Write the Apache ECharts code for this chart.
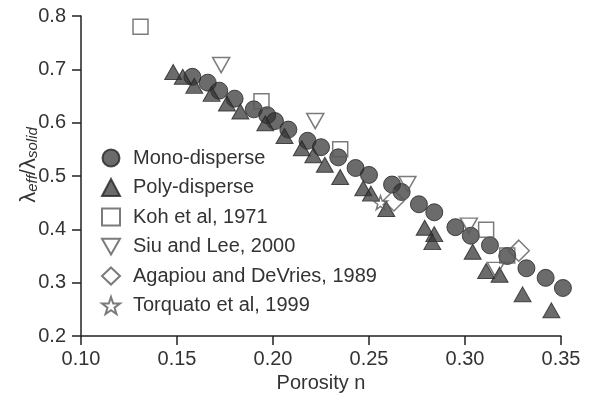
<!DOCTYPE html>
<html>
<head>
<meta charset="utf-8">
<script src="https://cdn.jsdelivr.net/npm/echarts@6/dist/echarts.min.js"></script>
<style>
  html, body { margin: 0; padding: 0; background: #fff; }
  #chart { width: 598px; height: 398px; }
</style>
</head>
<body>
<div id="chart"></div>
<script>
// 数据：[孔隙率 n, λeff/λsolid]
var monoDisperse = [
  [0.158, 0.686], [0.166, 0.675], [0.172, 0.660], [0.180, 0.645], [0.190, 0.625],
  [0.197, 0.614], [0.201, 0.603], [0.208, 0.587], [0.218, 0.566], [0.225, 0.554],
  [0.234, 0.535], [0.243, 0.515], [0.250, 0.502], [0.262, 0.484], [0.267, 0.470],
  [0.276, 0.447], [0.284, 0.432], [0.295, 0.404], [0.303, 0.388], [0.313, 0.370],
  [0.322, 0.350], [0.332, 0.327], [0.342, 0.309], [0.351, 0.290]
]
var polyDisperse = [
  [0.148, 0.695], [0.153, 0.686], [0.159, 0.669], [0.168, 0.654], [0.176, 0.636],
  [0.183, 0.621], [0.196, 0.599], [0.206, 0.575], [0.215, 0.552], [0.221, 0.539],
  [0.227, 0.521], [0.235, 0.498], [0.247, 0.477], [0.251, 0.467], [0.259, 0.438],
  [0.279, 0.403], [0.284, 0.391], [0.283, 0.376], [0.304, 0.358], [0.311, 0.322],
  [0.318, 0.315], [0.330, 0.278], [0.345, 0.248]
]
var koh1971 = [[0.131, 0.780], [0.194, 0.640], [0.235, 0.550], [0.311, 0.399], [0.322, 0.351]]
var siuLee2000 = [[0.173, 0.708], [0.222, 0.603], [0.270, 0.485], [0.302, 0.407], [0.316, 0.324]]
var agapiou1989 = [[0.263, 0.454], [0.328, 0.360]]
var torquato1999 = [[0.256, 0.450]]

var seriesNames = ['Mono-disperse', 'Poly-disperse', 'Koh et al, 1971', 'Siu and Lee, 2000',
  'Agapiou and DeVries, 1989', 'Torquato et al, 1999']

var FONT = 'Liberation Sans, Arial, sans-serif'
var STAR = 'path://M50,0 L61.8,35.3 L98.1,35.3 L68.8,57.1 L79.4,91.5 L50,70.6 L20.6,91.5 L31.2,57.1 L1.9,35.3 L38.2,35.3 Z'
var DOWN_TRI = 'path://M0,0 L20,0 L10,17.5 Z'

var chart = echarts.init(document.getElementById('chart'), null, { renderer: 'canvas' })
chart.setOption(getOptions())

function filled (name, symbol, size, data) {
  return {
    name: name,
    type: 'scatter',
    symbol: symbol,
    symbolSize: size,
    clip: false,
    itemStyle: { color: 'rgba(50,50,50,0.9)', borderColor: '#262626', borderWidth: 1 },
    data: data
  }
}

function hollow (name, symbol, size, data) {
  return {
    name: name,
    type: 'scatter',
    symbol: symbol,
    symbolSize: size,
    clip: false,
    itemStyle: { color: 'rgba(255,255,255,0)', borderColor: '#5a5a5a', borderWidth: 1.5 },
    data: data
  }
}

function getOptions () {
  return {
    animation: false,
    backgroundColor: '#fff',
    grid: { left: 81, right: 37, top: 16, bottom: 60 },
    legend: {
      orient: 'vertical',
      left: 96,
      top: 143,
      itemWidth: 18,
      itemHeight: 17,
      itemGap: 9.5,
      textStyle: { fontSize: 20, color: '#333', fontFamily: FONT, padding: [0, 0, 0, 8] },
      data: seriesNames
    },
    xAxis: {
      type: 'value',
      min: 0.10,
      max: 0.35,
      interval: 0.05,
      name: 'Porosity n',
      nameLocation: 'middle',
      nameGap: 37,
      nameMoveOverlap: false,
      nameTextStyle: { fontSize: 20, color: '#333', fontFamily: FONT },
      axisLine: { lineStyle: { color: '#222', width: 1.5 } },
      axisTick: { length: 9, lineStyle: { color: '#222', width: 1.5 } },
      axisLabel: {
        margin: 13, fontSize: 20, color: '#333', fontFamily: FONT,
        formatter: function (v) { return v.toFixed(2) }
      },
      splitLine: { show: false }
    },
    yAxis: {
      type: 'value',
      min: 0.2,
      max: 0.8,
      interval: 0.1,
      name: '{m|λ}{s|eff}{m|/λ}{s|solid}',
      nameLocation: 'middle',
      nameRotate: 90,
      nameGap: 41,
      nameMoveOverlap: false,
      nameTextStyle: {
        color: '#333',
        fontFamily: FONT,
        padding: [0, 0, 0, 22],
        rich: {
          m: { fontSize: 22, color: '#333', fontFamily: FONT, lineHeight: 24, verticalAlign: 'bottom' },
          s: { fontSize: 15, fontStyle: 'italic', color: '#333', fontFamily: FONT, lineHeight: 24, verticalAlign: 'bottom', padding: [6, 0, 0, 0] }
        }
      },
      axisLine: { show: true, lineStyle: { color: '#222', width: 1.5 } },
      axisTick: { show: true, length: 9, lineStyle: { color: '#222', width: 1.5 } },
      axisLabel: {
        margin: 15, fontSize: 20, color: '#333', fontFamily: FONT,
        formatter: function (v) { return v.toFixed(1) }
      },
      splitLine: { show: false }
    },
    series: [
      filled(seriesNames[0], 'circle', 17, monoDisperse),
      filled(seriesNames[1], 'triangle', [17, 15], polyDisperse),
      hollow(seriesNames[2], 'rect', 15, koh1971),
      hollow(seriesNames[3], DOWN_TRI, [17, 15], siuLee2000),
      hollow(seriesNames[4], 'diamond', 21, agapiou1989),
      hollow(seriesNames[5], STAR, 14, torquato1999)
    ]
  }
}
</script>
</body>
</html>
